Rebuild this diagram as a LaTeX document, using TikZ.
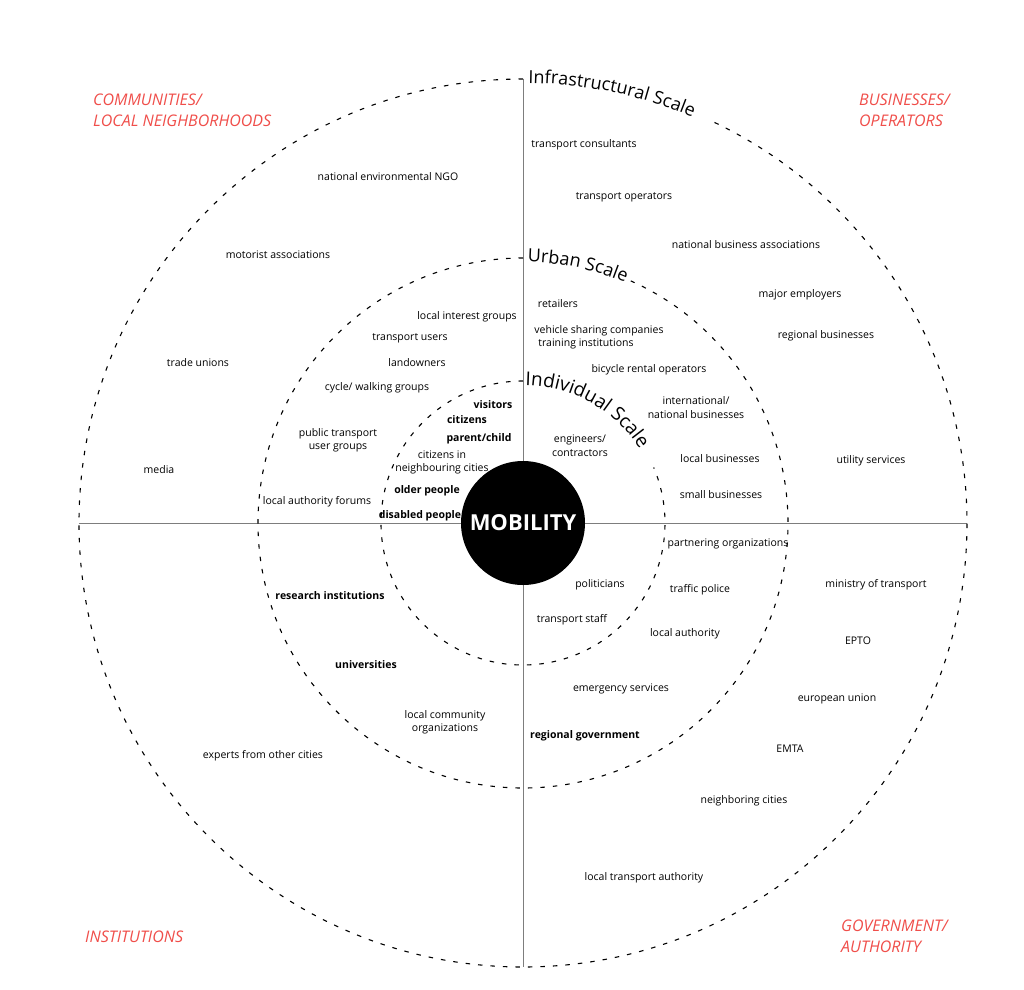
\documentclass[tikz,border=0pt]{standalone}
\usepackage{fontspec}
\setmainfont{Open Sans}
\usetikzlibrary{decorations.text}
\definecolor{redlab}{RGB}{240,78,74}
\definecolor{axisgray}{RGB}{125,125,125}
\begin{document}
\begin{tikzpicture}[x=1pt,y=1pt,
  lab/.style={font=\fontsize{10.5}{13.5}\selectfont, align=center, inner sep=0pt},
  blab/.style={font=\fontsize{10.5}{13.5}\selectfont\bfseries, align=center, inner sep=0pt},
  quad/.style={font=\fontsize{16}{21}\selectfont\itshape, text=redlab, align=left, anchor=west, inner sep=0pt},
  ring/.style={line width=1.1pt, dash pattern=on 4.5pt off 8pt},
  axisline/.style={draw=axisgray, line width=0.9pt},
  scaletext/.style 2 args={decorate, decoration={text along path, text align=left, text={|\fontsize{#1}{#1}\selectfont|#2}}}]
\useasboundingbox (-523,-466) rectangle (501,523);
\fill[white] (-523,-466) rectangle (501,523);
% axes
\coordinate (top) at (0,444);
\coordinate (bot) at (0,-444);
\coordinate (lft) at (-444,0);
\coordinate (rgt) at (444,0);
\draw[axisline] (top) -- (bot);
\draw[axisline] (lft) -- (rgt);
% rings
\draw[ring] (90:444) arc[start angle=90, end angle=425, radius=444];
\draw[ring] (90:265) arc[start angle=90, end angle=426, radius=265];
\draw[ring] (90:142) arc[start angle=90, end angle=383, radius=142];
% scale titles
\path[scaletext={18}{Infrastructural Scale}] (89.3:440) arc[start angle=89.3, end angle=40, radius=440];
\path[scaletext={18}{Urban Scale}] (89:261) arc[start angle=89, end angle=30, radius=261];
\path[scaletext={19}{Individual Scale}] (89:138) arc[start angle=89, end angle=0, radius=138];
% centre
\node[circle, fill=black, minimum size=124pt, inner sep=0pt, text=white, font=\fontsize{22}{22}\selectfont\bfseries] (mob) at (0,0) {MOBILITY};
\begin{scope}[shift={(-523pt,521.5pt)}, y=-1pt]
% quadrant titles
\node[quad] (qcom) at (93,109) {COMMUNITIES/\\LOCAL NEIGHBORHOODS};
\node[quad] (qbus) at (859,109) {BUSINESSES/\\OPERATORS};
\node[quad] (qins) at (85,935) {INSTITUTIONS};
\node[quad] (qgov) at (841,935) {GOVERNMENT/\\AUTHORITY};
% top right
\node[lab] (tcons) at (584,143) {transport consultants};
\node[lab] (toper) at (624,196) {transport operators};
\node[lab] (nba) at (746,243) {national business associations};
\node[lab] (majemp) at (800,293) {major employers};
\node[lab] (regbus) at (826,334) {regional businesses};
\node[lab] (util) at (871,459) {utility services};
\node[lab] (retail) at (558,302) {retailers};
\node[lab] (vsc) at (599,329) {vehicle sharing companies};
\node[lab] (train) at (586,342) {training institutions};
\node[lab] (bike) at (649,368) {bicycle rental operators};
\node[lab] (intl) at (696,406) {international/\\national businesses};
\node[lab] (eng) at (580,444) {engineers/\\contractors};
\node[lab] (locbus) at (720,457) {local businesses};
\node[lab] (smbus) at (721,493) {small businesses};
% top left
\node[lab] (ngo) at (388,175) {national environmental NGO};
\node[lab] (motor) at (278,253) {motorist associations};
\node[lab] (trade) at (198,361) {trade unions};
\node[lab] (media) at (159,468) {media};
\node[lab] (lig) at (467,315) {local interest groups};
\node[lab] (tusers) at (410,337) {transport users};
\node[lab] (land) at (417,361) {landowners};
\node[lab] (cycle) at (377,386) {cycle/ walking groups};
\node[lab] (ptug) at (338,439) {public transport\\user groups};
\node[lab] (laf) at (317,500) {local authority forums};
\node[blab] (visit) at (493,403) {visitors};
\node[blab] (citz) at (467,418) {citizens};
\node[blab] (parent) at (479,437) {parent/child};
\node[lab] (cin) at (442,461) {citizens in\\neighbouring cities};
\node[blab] (older) at (427,489) {older people};
\node[blab] (disab) at (420,514) {disabled people};
% bottom left
\node[blab] (resin) at (330,594) {research institutions};
\node[blab] (univ) at (366,663) {universities};
\node[lab] (lco) at (445,721) {local community\\organizations};
\node[lab] (expert) at (263,754) {experts from other cities};
% bottom right
\node[lab] (partner) at (728,542) {partnering organizations};
\node[lab] (polit) at (600,583) {politicians};
\node[lab] (police) at (700,588) {traffic police};
\node[lab] (ministry) at (876,583) {ministry of transport};
\node[lab] (tstaff) at (572,618) {transport staff};
\node[lab] (locauth) at (685,632) {local authority};
\node[lab] (epto) at (858,639) {EPTO};
\node[lab] (emerg) at (621,687) {emergency services};
\node[lab] (eu) at (837,697) {european union};
\node[blab] (reggov) at (585,734) {regional government};
\node[lab] (emta) at (790,747) {EMTA};
\node[lab] (neigh) at (744,799) {neighboring cities};
\node[lab] (lta) at (644,876) {local transport authority};
\end{scope}
\end{tikzpicture}
\end{document}
